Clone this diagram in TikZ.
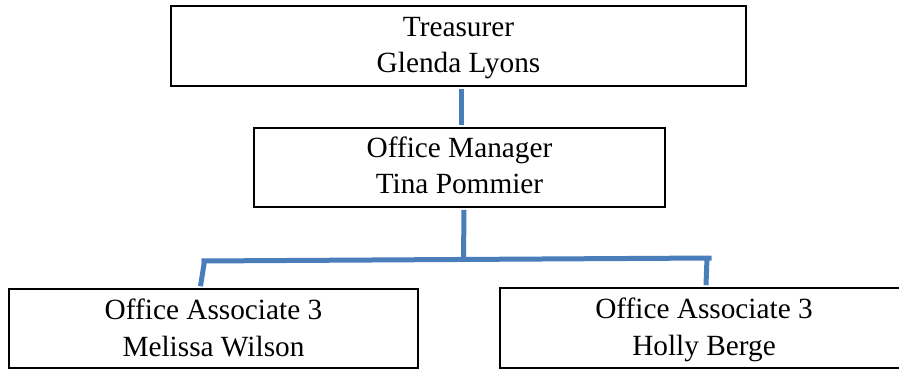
\documentclass[tikz,border=0pt]{standalone}
\usepackage{fontspec}
\setmainfont{Liberation Serif}
\definecolor{linkblue}{HTML}{4A7EBB}
\begin{document}
\begin{tikzpicture}[x=1pt,y=-1pt,
  box/.style={draw=black, line width=2.8pt, rectangle, inner sep=0pt,
    align=center, font=\fontsize{29.3}{36}\selectfont, text depth=2pt},
  conn/.style={draw=linkblue, line width=5pt}]
\useasboundingbox[fill=white] (0,0) rectangle (899,369);
\node[box, minimum width=575pt, minimum height=80pt, text height=56pt] (top) at (458.5,46) {Treasurer\\Glenda Lyons};
\node[box, minimum width=411pt, minimum height=79pt, text height=53pt] (mid) at (459.5,167.5) {Office Manager\\Tina Pommier};
\node[box, minimum width=409pt, minimum height=79pt, text height=57pt, font=\fontsize{29.3}{37}\selectfont] (left) at (213.5,328.5) {Office Associate 3\\Melissa Wilson};
\node[box, minimum width=408pt, minimum height=80pt, text height=57pt, font=\fontsize{29.3}{37}\selectfont] (right) at (704,328) {Office Associate 3\\Holly Berge};
\coordinate (jl) at (204,261);
\coordinate (jr) at (709,258);
\coordinate (jm) at (463.5,259.5);
\draw[conn] ([xshift=2.5pt,yshift=-1.4pt]top.south) -- ([xshift=1.5pt,yshift=1.4pt]mid.north);
\draw[conn] ([xshift=4.5pt,yshift=-1.4pt]mid.south) -- (jm);
\draw[conn] ([xshift=-2.5pt]jl) -- ([xshift=2.5pt]jr);
\draw[conn] ([xshift=0.5pt]jl) -- ([xshift=-13pt,yshift=1.4pt]left.north);
\draw[conn] ([xshift=-2pt]jr) -- ([xshift=2pt,yshift=1.4pt]right.north);
\end{tikzpicture}
\end{document}
